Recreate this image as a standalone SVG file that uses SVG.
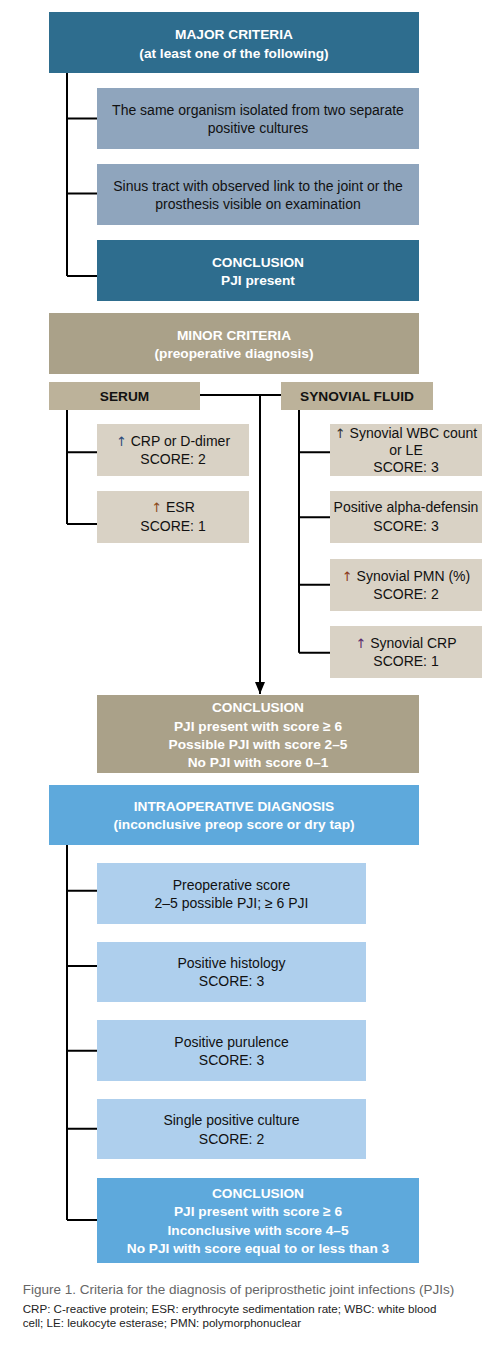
<svg xmlns="http://www.w3.org/2000/svg" width="501" height="1347" viewBox="0 0 501 1347">
<style>
text{font-family:"Liberation Sans",Arial,sans-serif;text-anchor:middle}
.h{font-size:13.7px;font-weight:bold;fill:#fff}
.hd{font-size:13.7px;font-weight:bold;fill:#111}
.t{font-size:14px;fill:#111}
.up{font-family:"DejaVu Sans",sans-serif;font-size:13px}
.ln{stroke:#000;stroke-width:2;fill:none}
.maj{fill:#2e6d8e}
.majl{fill:#8fa5bd}
.min{fill:#aaa189}
.minh{fill:#bcb29a}
.mini{fill:#d9d2c5}
.intr{fill:#5ea9dc}
.intl{fill:#aecfed}
</style>
<defs>
<marker id="arr" markerWidth="12" markerHeight="10" refX="12" refY="5" orient="auto" markerUnits="userSpaceOnUse" viewBox="0 0 12 10">
<path d="M0,0 L12,5 L0,10 Z" fill="#000"/>
</marker>
</defs>
<rect width="501" height="1347" fill="#fff"/>
<g id="connectors">
<path class="ln" d="M67,73 V276 M67,118.5 H97 M67,193.5 H97 M67,276 H97"/>
<path class="ln" d="M200,395 H281"/>
<path class="ln" d="M260,395 V694" marker-end="url(#arr)"/>
<path class="ln" d="M67,410 V524 M67,452.3 H97 M67,524 H97"/>
<path class="ln" d="M299,410 V652.7 M299,452.3 H330 M299,517.3 H330 M299,584.7 H330 M299,652.7 H330"/>
<path class="ln" d="M67,845 V1220 M67,890.7 H97 M67,966 H97 M67,1050.7 H97 M67,1128.7 H97 M67,1220 H97"/>
</g>
<g id="major-header"><rect class="maj" x="49" y="12" width="370" height="61"/>
<text class="h" x="234" y="39.3">MAJOR CRITERIA</text><text class="h" x="234" y="57.7">(at least one of the following)</text></g>
<g id="major-1"><rect class="majl" x="97" y="88" width="322" height="61"/>
<text class="t" x="258" y="115">The same organism isolated from two separate</text><text class="t" x="258" y="133.3">positive cultures</text></g>
<g id="major-2"><rect class="majl" x="97" y="164" width="322" height="61"/>
<text class="t" x="258" y="191">Sinus tract with observed link to the joint or the</text><text class="t" x="258" y="209">prosthesis visible on examination</text></g>
<g id="major-conclusion"><rect class="maj" x="97" y="240" width="322" height="61"/>
<text class="h" x="258" y="266.7">CONCLUSION</text><text class="h" x="258" y="285">PJI present</text></g>
<g id="minor-header"><rect class="min" x="49" y="313" width="370" height="61"/>
<text class="h" x="234" y="340">MINOR CRITERIA</text><text class="h" x="234" y="358.3">(preoperative diagnosis)</text></g>
<g id="serum"><rect class="minh" x="49" y="382" width="151" height="28"/>
<text class="hd" x="124.5" y="400.7">SERUM</text></g>
<g id="synovial"><rect class="minh" x="281" y="382" width="152" height="28"/>
<text class="hd" x="357" y="400.7">SYNOVIAL FLUID</text></g>
<g id="serum-crp"><rect class="mini" x="97" y="424" width="152" height="52"/>
<text class="t" x="173" y="445.7"><tspan class="up" fill="#2a4a7a">↑</tspan> CRP or D-dimer</text><text class="t" x="173" y="464">SCORE: 2</text></g>
<g id="serum-esr"><rect class="mini" x="97" y="491" width="152" height="52"/>
<text class="t" x="173" y="512.3"><tspan class="up" fill="#8b4a1a">↑</tspan> ESR</text><text class="t" x="173" y="530.7">SCORE: 1</text></g>
<g id="syn-wbc"><rect class="mini" x="330" y="424" width="152" height="52"/>
<text class="t" x="406" y="438.3"><tspan class="up" fill="#333">↑</tspan> Synovial WBC count</text><text class="t" x="406" y="455">or LE</text><text class="t" x="406" y="471.7">SCORE: 3</text></g>
<g id="syn-alpha"><rect class="mini" x="330" y="491" width="152" height="52"/>
<text class="t" x="406" y="512.3">Positive alpha-defensin</text><text class="t" x="406" y="530.7">SCORE: 3</text></g>
<g id="syn-pmn"><rect class="mini" x="330" y="559" width="152" height="52"/>
<text class="t" x="406" y="581"><tspan class="up" fill="#8b3a1a">↑</tspan> Synovial PMN (%)</text><text class="t" x="406" y="599">SCORE: 2</text></g>
<g id="syn-crp"><rect class="mini" x="330" y="626" width="152" height="52"/>
<text class="t" x="406" y="647.7"><tspan class="up" fill="#5a2a6a">↑</tspan> Synovial CRP</text><text class="t" x="406" y="665.7">SCORE: 1</text></g>
<g id="minor-conclusion"><rect class="min" x="97" y="695" width="322" height="78"/>
<text class="h" x="258" y="712.3">CONCLUSION</text><text class="h" x="258" y="730.5">PJI present with score ≥ 6</text><text class="h" x="258" y="748.7">Possible PJI with score 2–5</text><text class="h" x="258" y="767">No PJI with score 0–1</text></g>
<g id="intra-header"><rect class="intr" x="49" y="785" width="370" height="60"/>
<text class="h" x="234" y="811">INTRAOPERATIVE DIAGNOSIS</text><text class="h" x="234" y="829.3">(inconclusive preop score or dry tap)</text></g>
<g id="intra-preop"><rect class="intl" x="97" y="863" width="269" height="61"/>
<text class="t" x="231.5" y="890">Preoperative score</text><text class="t" x="231.5" y="908">2–5 possible PJI; ≥ 6 PJI</text></g>
<g id="intra-histology"><rect class="intl" x="97" y="942" width="269" height="60"/>
<text class="t" x="231.5" y="967.7">Positive histology</text><text class="t" x="231.5" y="986.3">SCORE: 3</text></g>
<g id="intra-purulence"><rect class="intl" x="97" y="1020" width="269" height="61"/>
<text class="t" x="231.5" y="1046.5">Positive purulence</text><text class="t" x="231.5" y="1064.7">SCORE: 3</text></g>
<g id="intra-culture"><rect class="intl" x="97" y="1099" width="269" height="60"/>
<text class="t" x="231.5" y="1125">Single positive culture</text><text class="t" x="231.5" y="1143.7">SCORE: 2</text></g>
<g id="intra-conclusion"><rect class="intr" x="97" y="1178" width="322" height="85"/>
<text class="h" x="258" y="1197.7">CONCLUSION</text><text class="h" x="258" y="1216">PJI present with score ≥ 6</text><text class="h" x="258" y="1234.5">Inconclusive with score 4–5</text><text class="h" x="258" y="1252.7">No PJI with score equal to or less than 3</text></g>
<g id="caption">
<text x="22.7" y="1294" style="text-anchor:start;font-size:13.5px;fill:#666">Figure 1. Criteria for the diagnosis of periprosthetic joint infections (PJIs)</text>
<text x="22.7" y="1313.3" style="text-anchor:start;font-size:11.6px;fill:#222">CRP: C-reactive protein; ESR: erythrocyte sedimentation rate; WBC: white blood</text>
<text x="22.7" y="1327.3" style="text-anchor:start;font-size:11.6px;fill:#222">cell; LE: leukocyte esterase; PMN: polymorphonuclear</text>
</g>
</svg>
